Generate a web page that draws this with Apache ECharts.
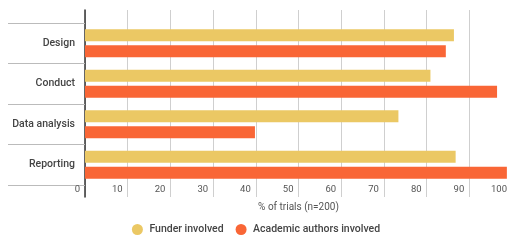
<!DOCTYPE html>
<html lang="en">
<head>
    <meta charset="UTF-8">
    <title>Funder vs academic involvement</title>
    <script src="https://cdn.jsdelivr.net/npm/echarts@6/dist/echarts.min.js"></script>
    <style>
        html, body { margin: 0; padding: 0; background: #fff; }
        #chart { width: 512px; height: 241px; }
    </style>
</head>
<body>
<div id="chart"></div>
<script>
    // data
    var categories = ['Design', 'Conduct', 'Data analysis', 'Reporting'];
    var funderValues = [86.4, 80.9, 73.4, 86.8];
    var academicValues = [84.5, 96.5, 39.8, 98.8];
    var xTicks = [0, 10, 20, 30, 40, 50, 60, 70, 80, 90, 100];
    var seriesNames = ['Funder involved', 'Academic authors involved'];

    var font = 'Roboto';
    var chart = echarts.init(document.getElementById('chart'));
    chart.setOption({
        animation: false,
        color: ['#ebc864', '#f96636'],
        legend: {
            data: seriesNames,
            left: 'center',
            top: 219,
            icon: 'circle',
            itemWidth: 14,
            itemHeight: 11,
            itemGap: 12,
            textStyle: { fontFamily: font, fontSize: 10.5, color: '#444', fontWeight: 500 }
        },
        grid: [
            // background grid: vertical lines + zero line
            { left: 85, right: -3, top: 10, bottom: 44 },
            // bars
            { left: 85, right: -3, top: 23, bottom: 56 }
        ],
        xAxis: [{
            gridIndex: 0,
            type: 'value',
            min: xTicks[0],
            max: xTicks[xTicks.length - 1],
            interval: 10,
            axisLine: { show: false },
            axisTick: { show: false },
            splitLine: { lineStyle: { color: '#cfcfcf', width: 1 } },
            axisLabel: {
                inside: true,
                margin: 2,
                align: 'right',
                padding: [0, 5, 0, 0],
                fontFamily: font,
                fontSize: 9.5,
                color: '#555',
                showMaxLabel: true,
                formatter: function (v) { return xTicks.indexOf(v) >= 0 ? String(v) : ''; }
            },
            name: '% of trials (n=200)',
            nameLocation: 'middle',
            nameGap: 5,
            nameTextStyle: { fontFamily: font, fontSize: 10, color: '#555' }
        }, {
            gridIndex: 1,
            type: 'value',
            min: 0,
            max: 100,
            show: false
        }],
        yAxis: [{
            gridIndex: 0,
            type: 'category',
            data: [''],
            axisLine: { show: true, lineStyle: { color: '#333', width: 1.5 } },
            axisTick: { show: false },
            axisLabel: { show: false }
        }, {
            gridIndex: 1,
            type: 'category',
            inverse: true,
            data: categories,
            axisLine: { show: false },
            axisTick: { show: true, length: 77, lineStyle: { color: '#bbb', width: 1 } },
            axisLabel: {
                margin: 10,
                fontFamily: font,
                fontSize: 10.5,
                fontWeight: 500,
                color: '#444'
            }
        }],
        series: [{
            name: seriesNames[0],
            type: 'bar',
            xAxisIndex: 1,
            yAxisIndex: 1,
            data: funderValues,
            barWidth: 12,
            barGap: '33%'
        }, {
            name: seriesNames[1],
            type: 'bar',
            xAxisIndex: 1,
            yAxisIndex: 1,
            data: academicValues,
            barWidth: 12,
            barGap: '33%'
        }]
    });
</script>
</body>
</html>
